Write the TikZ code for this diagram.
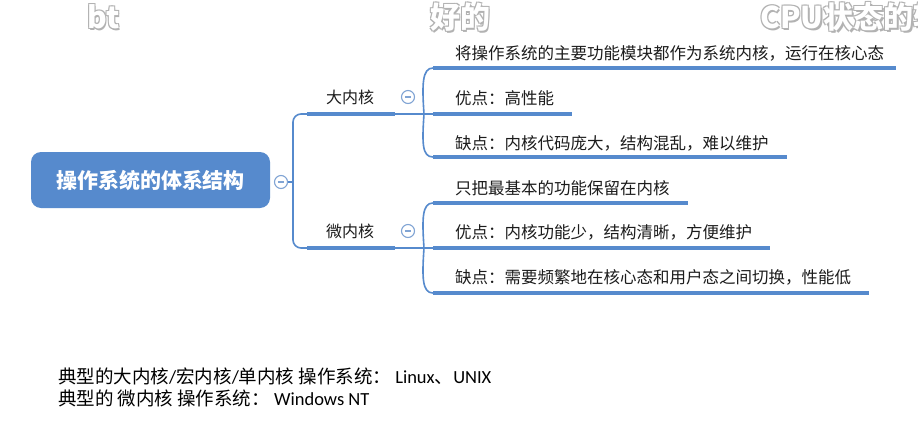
\documentclass[tikz,border=0pt]{standalone}
\usepackage{fontspec}
\setmainfont{Noto Sans CJK SC}
\newfontfamily\latinfont{Carlito}
\usetikzlibrary{calc,positioning}
\definecolor{mapblue}{RGB}{86,138,205}
\definecolor{ringblue}{RGB}{128,164,212}
\definecolor{inkdark}{RGB}{28,28,28}

\begin{document}
\begin{tikzpicture}[
    x=1pt,y=-1pt,
    rootbox/.style={fill=mapblue,rounded corners=10pt,minimum width=239pt,
      minimum height=56pt,inner sep=0pt,text=white,
      font=\fontsize{21}{24}\selectfont\bfseries},
    topic/.style={inner sep=0pt,text=inkdark,font=\fontsize{16}{19}\selectfont},
    leaf/.style={inner sep=0pt,anchor=west,text=inkdark,
      font=\fontsize{16.5}{19}\selectfont},
    fold/.style={circle,draw=ringblue,line width=1.1pt,fill=white,
      minimum size=13pt,inner sep=0pt,
      path picture={\draw[ringblue,line width=1.1pt]
        ([xshift=-3.2pt]path picture bounding box.center) --
        ([xshift=3.2pt]path picture bounding box.center);}},
    link/.style={draw=mapblue,line width=1.6pt},
    under/.style={draw=mapblue,line width=4pt},
    note/.style={inner sep=0pt,anchor=west,text=black,
      font=\fontsize{18.5}{21}\selectfont},
    ghost/.style={inner sep=0pt,anchor=west,
      font=\fontsize{30}{32}\selectfont\bfseries}
  ]
  \useasboundingbox[fill=white] (0,0) rectangle (918,447);

  % subtitle remains at the top
  \foreach \gx/\gtext [count=\g] in {87/bt,430/好的,760/CPU状态的转}{
    \foreach \ox/\oy [count=\o] in {-1/-1,1/-1,-1/1,1.6/1.8}
      \node[ghost,text=black!30] (ghost\g-\o) at (\gx+\ox,17+\oy) {\gtext};
    \node[ghost,text=white] (ghost\g) at (\gx,17) {\gtext};
  }

  % root and main branches
  \node[rootbox] (root) at (150.5,180) {操作系统的体系结构};
  \node[fold] (rootfold) at (281,182) {};
  \coordinate (trunk) at (293,182);
  \node[topic] (big) at (350,97) {大内核};
  \node[topic] (micro) at (350,231) {微内核};
  \node[fold] (bigfold) at (408,97) {};
  \node[fold] (microfold) at (408,231) {};

  \coordinate (bigL) at (307,114);
  \coordinate (bigR) at (395,114);
  \coordinate (bigJ) at (424,114);
  \coordinate (microL) at (307,248);
  \coordinate (microR) at (395,248);
  \coordinate (microJ) at (424,248);

  \draw[link] (rootfold) -- (trunk);
  \draw[link,rounded corners=8pt] (bigL) -| (trunk) |- (microL);
  \draw[under] (bigL) -- (bigR);
  \draw[under] (microL) -- (microR);
  \draw[link] (bigR) -- (bigJ);
  \draw[link] (microR) -- (microJ);

  % leaves of the big kernel
  \node[leaf] (big1) at (455,53) {将操作系统的主要功能模块都作为系统内核，运行在核心态};
  \node[leaf] (big2) at (455,98) {优点：高性能};
  \node[leaf] (big3) at (455,143) {缺点：内核代码庞大，结构混乱，难以维护};
  \coordinate (big1s) at (433,68);
  \coordinate (big2s) at (433,114);
  \coordinate (big3s) at (433,157);
  \draw[link] (bigJ) .. controls (422,85) and (422,68) .. (big1s);
  \draw[link] (bigJ) -- (big2s);
  \draw[link] (bigJ) .. controls (422,143) and (422,157) .. (big3s);
  \draw[under] (big1s) -- ($(big1s -| big1.east)+(12,0)$);
  \draw[under] (big2s) -- ($(big2s -| big2.east)+(18,0)$);
  \draw[under] (big3s) -- ($(big3s -| big3.east)+(18,0)$);

  % leaves of the micro kernel
  \node[leaf] (micro1) at (455,188) {只把最基本的功能保留在内核};
  \node[leaf] (micro2) at (455,232) {优点：内核功能少，结构清晰，方便维护};
  \node[leaf] (micro3) at (455,277) {缺点：需要频繁地在核心态和用户态之间切换，性能低};
  \coordinate (micro1s) at (433,203);
  \coordinate (micro2s) at (433,248);
  \coordinate (micro3s) at (433,293);
  \draw[link] (microJ) .. controls (422,219) and (422,203) .. (micro1s);
  \draw[link] (microJ) -- (micro2s);
  \draw[link] (microJ) .. controls (422,277) and (422,293) .. (micro3s);
  \draw[under] (micro1s) -- ($(micro1s -| micro1.east)+(18,0)$);
  \draw[under] (micro2s) -- ($(micro2s -| micro2.east)+(18,0)$);
  \draw[under] (micro3s) -- ($(micro3s -| micro3.east)+(18,0)$);

  % notes below
  \node[note] (note1) at (58,376) {典型的大内核{\latinfont/}宏内核{\latinfont/}单内核 操作系统：\ {\latinfont Linux}、{\latinfont UNIX}};
  \node[note] (note2) at (58,398) {典型的 微内核 操作系统：\ {\latinfont Windows NT}};
\end{tikzpicture}
\end{document}
